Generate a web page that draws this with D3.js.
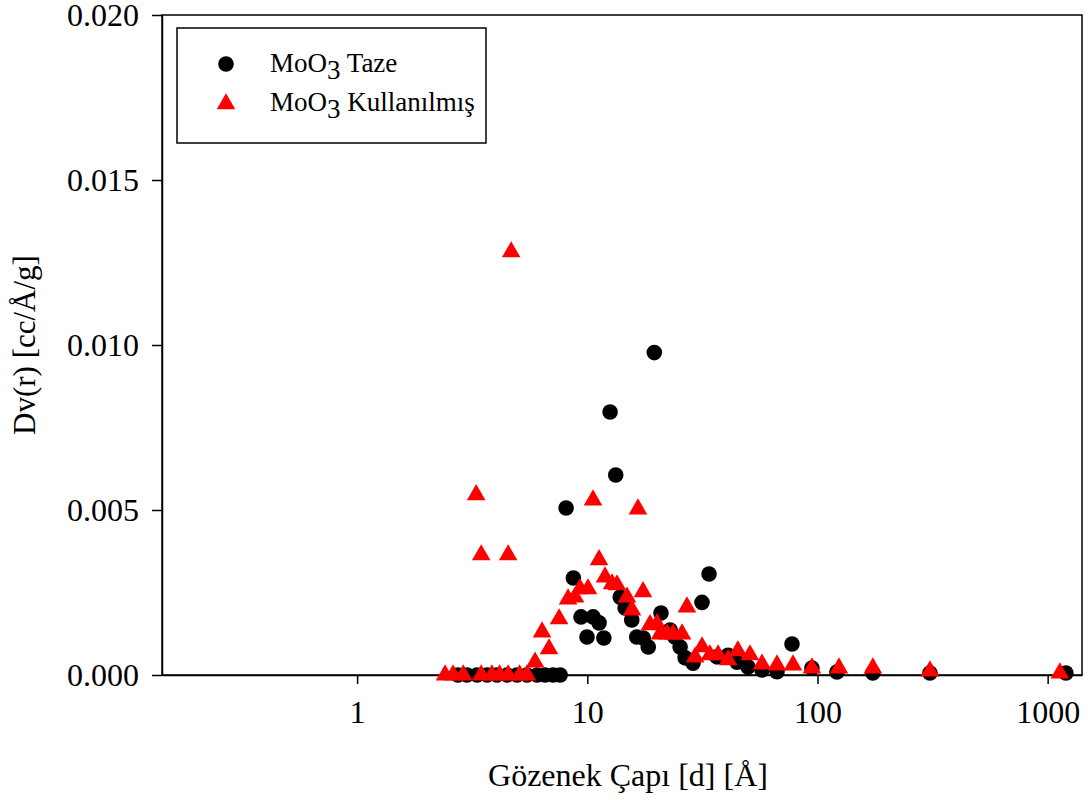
<!DOCTYPE html>
<html>
<head>
<meta charset="utf-8">
<script src="https://cdn.jsdelivr.net/npm/d3@7"></script>
<style>
  body { margin: 0; background: #fff; }
  text { font-family: "Liberation Serif", "Times New Roman", serif; }
</style>
</head>
<body>
<div id="chart"></div>
<script>
// pore diameter [Å] and Dv(r) [cc/Å/g]
const tazeX = [2.74, 3.0, 3.32, 3.67, 4.05, 4.49, 4.95, 5.47, 6.05, 6.55, 7.10, 7.62,
  8.09, 8.70, 9.39, 9.97, 10.6, 11.25, 11.8, 12.56, 13.29, 13.9, 14.6, 15.6, 16.4, 17.5,
  18.4, 19.55, 20.9, 22.9, 24.0, 25.3, 26.6, 28.8, 31.5, 33.8, 36.6, 40.9, 44.7, 49.9,
  57.4, 66.7, 77.5, 94.6, 121.5, 174, 308, 1200];
const tazeY = [0, 0, 0, 0, 0, 0, 0, 0, 0, 0, 0, 0,
  0.00506, 0.00294, 0.00176, 0.00115, 0.00176, 0.00158, 0.00112, 0.00797, 0.00606, 0.00236, 0.00203, 0.00167, 0.00115, 0.00112,
  0.00085, 0.00977, 0.00188, 0.00136, 0.00115, 0.00085, 0.00052, 0.00036, 0.0022, 0.00306, 0.00055, 0.0006, 0.00039, 0.00024,
  0.00015, 0.0001, 0.00094, 0.00021, 0.00009, 0.00006, 0.00006, 0.00006];

const kulX = [2.41, 2.61, 2.89, 3.29, 3.46, 3.46, 3.85, 4.16, 4.53, 4.53, 4.67, 5.08, 5.47,
  5.93, 6.36, 6.82, 7.54, 8.25, 8.85, 9.30, 10.07, 10.59, 11.25, 11.94, 12.81, 13.46, 14.88,
  15.64, 16.6, 17.46, 18.73, 20.1, 20.7, 22.2, 23.6, 25.8, 27.1, 29.4, 31.5, 34.1, 37.0,
  40.9, 45.1, 50.9, 57.4, 66.7, 78.3, 94.6, 124, 174, 308, 1130];
const kulY = [0.00006, 0.00006, 0.00006, 0.00552, 0.0037, 0.00006, 0.00006, 0.00006, 0.0037, 0.00006, 0.01288, 0.00006, 0.00006,
  0.00045, 0.00136, 0.00085, 0.00176, 0.00236, 0.00242, 0.00267, 0.00267, 0.00536, 0.00355, 0.00303, 0.00282, 0.00279, 0.00242,
  0.00203, 0.00509, 0.00258, 0.00158, 0.00161, 0.0013, 0.0013, 0.0013, 0.0013, 0.00212, 0.0006, 0.00091, 0.00067, 0.00067,
  0.00052, 0.00079, 0.00067, 0.00039, 0.00036, 0.00036, 0.00027, 0.00027, 0.00027, 0.00018, 0.00012];

const xTicks = [1, 10, 100, 1000];
const yTicks = [0, 0.005, 0.010, 0.015, 0.020];

const taze = tazeX.map((d, i) => ({x: d, y: tazeY[i]}));
const kul = kulX.map((d, i) => ({x: d, y: kulY[i]}));

let width = 1091, height = 800;
let plotLeft = 162, plotRight = 1082, plotTop = 15, plotBottom = 675;

let svg = d3.select('#chart').append('svg')
    .attr('width', width)
    .attr('height', height);

let x = d3.scaleLog().domain([0.142, 1410]).range([plotLeft, plotRight]);
let y = d3.scaleLinear().domain([0, 0.020]).range([plotBottom, plotTop]);

// frame
svg.append('rect')
    .attr('x', plotLeft).attr('y', plotTop)
    .attr('width', plotRight - plotLeft).attr('height', plotBottom - plotTop)
    .attr('fill', 'none').attr('stroke', '#000').attr('stroke-width', 1.5);

let xAxis = svg.append('g')
    .attr('transform', `translate(0,${plotBottom})`)
    .call(d3.axisBottom(x).tickValues(xTicks).tickFormat(d3.format('d')).tickSize(9).tickSizeOuter(0).tickPadding(16));
let yAxis = svg.append('g')
    .attr('transform', `translate(${plotLeft},0)`)
    .call(d3.axisLeft(y).tickValues(yTicks).tickFormat(d3.format('.3f')).tickSize(10).tickSizeOuter(0).tickPadding(13));

[xAxis, yAxis].forEach(g => {
    g.select('.domain').attr('stroke-width', 1.5);
    g.selectAll('.tick line').attr('stroke-width', 1.5);
    g.selectAll('.tick text')
        .style('font-family', '"Liberation Serif", serif')
        .style('font-size', '32px')
        .attr('fill', '#000');
});

// axis titles
svg.append('text')
    .attr('x', 628).attr('y', 786)
    .attr('text-anchor', 'middle')
    .style('font-size', '32px')
    .text('Gözenek Çapı [d] [Å]');
svg.append('text')
    .attr('transform', `translate(35,${(plotTop + plotBottom) / 2}) rotate(-90)`)
    .attr('text-anchor', 'middle')
    .style('font-size', '31px')
    .text('Dv(r) [cc/Å/g]');

let tri = d3.symbol().type(d3.symbolTriangle).size(150);

// black circles first, red triangles on top
svg.append('g').selectAll('circle')
    .data(taze).enter().append('circle')
    .attr('cx', d => x(d.x))
    .attr('cy', d => y(d.y))
    .attr('r', 7.8)
    .attr('fill', '#000');

svg.append('g').selectAll('path')
    .data(kul).enter().append('path')
    .attr('d', tri)
    .attr('transform', d => `translate(${x(d.x)},${y(d.y) + 2})`)
    .attr('fill', '#ff0000');

// legend
let legend = svg.append('g');
legend.append('rect')
    .attr('x', 177).attr('y', 28).attr('width', 309).attr('height', 115)
    .attr('fill', '#fff').attr('stroke', '#000').attr('stroke-width', 1.5);
legend.append('circle').attr('cx', 226).attr('cy', 64).attr('r', 7.8).attr('fill', '#000');
legend.append('path').attr('d', tri).attr('transform', 'translate(226,104)').attr('fill', '#ff0000');

[['Taze', 72], ['Kullanılmış', 111]].forEach(([name, yy]) => {
    let t = legend.append('text').attr('x', 270).attr('y', yy).style('font-size', '27px');
    t.append('tspan').text('MoO');
    t.append('tspan').attr('dy', 7).text('3');
    t.append('tspan').attr('dy', -7).text(' ' + name);
});
</script>
</body>
</html>
